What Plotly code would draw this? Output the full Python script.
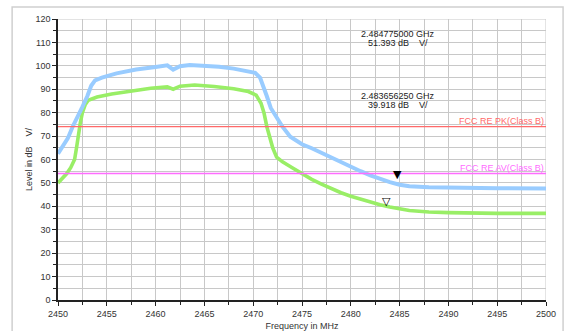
import plotly.graph_objects as go

# ---- data ----
pk_freq = [2450, 2450.5, 2451, 2451.5, 2452, 2452.5, 2453, 2453.4, 2453.8, 2454.5,
           2456, 2458, 2460, 2461.2, 2461.8, 2462.5, 2463.5, 2465, 2466.5, 2468,
           2469.5, 2470.2, 2470.7, 2471, 2471.4, 2471.8, 2472.4, 2473, 2473.8, 2475,
           2476, 2477, 2478, 2479, 2480, 2481, 2482, 2483, 2484, 2485,
           2486, 2488, 2490, 2495, 2500]
pk_level = [62.5, 65.5, 69, 74, 78, 82.5, 87, 91.5, 93.8, 95,
            96.8, 98.4, 99.5, 100.2, 98.4, 99.8, 100.4, 100.1, 99.6, 98.8,
            97.8, 97, 95, 92, 87, 82, 77.7, 74, 69.7, 66.5,
            64.8, 62.8, 60.8, 58.6, 57, 55, 53.2, 51.6, 50.3, 49.2,
            48.6, 48.1, 47.9, 47.7, 47.6]

av_freq = [2450, 2450.5, 2450.9, 2451.3, 2451.7, 2451.9, 2452.1, 2452.3, 2452.5, 2452.8,
           2453.1, 2454, 2455.5, 2457.5, 2459.5, 2461.2, 2461.8, 2462.5, 2464, 2466,
           2468, 2469.5, 2470.3, 2470.8, 2471.1, 2471.4, 2471.7, 2472, 2472.4, 2473,
           2474, 2475, 2476, 2477, 2478, 2479, 2480, 2481, 2482, 2483,
           2484, 2485, 2486, 2488, 2490, 2495, 2500]
av_level = [50, 52, 54, 56.5, 60, 65, 71, 76, 80, 83.5,
            85.3, 86.7, 88, 89.3, 90.4, 91, 90, 91.3, 91.8, 91.2,
            90.2, 89, 87.5, 84, 80, 74, 69, 65, 61, 59,
            56.5, 54, 51.5, 49.5, 47.5, 45.8, 44.3, 43, 41.8, 40.7,
            39.7, 38.8, 38.2, 37.6, 37.3, 37, 37]

limit_pk = 74.0
limit_av = 54.0
limit_pk_label = "FCC RE PK(Class B)"
limit_av_label = "FCC RE AV(Class B)"

marker1_freq_mhz = 2484.775
marker1_level = 51.393
marker1_text = ["2.484775000 GHz", "51.393 dB    V/"]
marker2_freq_mhz = 2483.65625
marker2_level = 39.918
marker2_text = ["2.483656250 GHz", "39.918 dB    V/"]

x_range = [2450, 2500]
y_range = [0, 120]

# ---- styling ----
BLUE = "#99ccff"
GREEN = "#99ee66"
RED = "#ff6a6a"
MAGENTA = "#ff6cff"
FONT = "Liberation Sans, Arial, sans-serif"
TXT = "#333333"

fig = go.Figure()
fig.add_trace(go.Scatter(x=av_freq, y=av_level, mode="lines",
                         line=dict(color=GREEN, width=3.6), hoverinfo="skip"))
fig.add_trace(go.Scatter(x=pk_freq, y=pk_level, mode="lines",
                         line=dict(color=BLUE, width=4), hoverinfo="skip"))
fig.add_trace(go.Scatter(x=x_range, y=[limit_pk, limit_pk], mode="lines",
                         line=dict(color=RED, width=1.3), hoverinfo="skip"))
fig.add_trace(go.Scatter(x=x_range, y=[limit_av, limit_av], mode="lines",
                         line=dict(color=MAGENTA, width=1.6), hoverinfo="skip"))

ann = []
ann.append(dict(x=x_range[1], y=limit_pk, text=limit_pk_label, xanchor="right",
                yanchor="bottom", showarrow=False, yshift=-1,
                font=dict(size=9, color=RED, family=FONT)))
ann.append(dict(x=x_range[1], y=limit_av, text=limit_av_label, xanchor="right",
                yanchor="bottom", showarrow=False, yshift=-1,
                font=dict(size=9, color=MAGENTA, family=FONT)))
# markers (triangle tip on the data point)
ann.append(dict(x=marker1_freq_mhz, y=marker1_level, text="▼", xanchor="center",
                yanchor="bottom", showarrow=False, yshift=-3,
                font=dict(size=11, color="#000000", family="DejaVu Sans")))
ann.append(dict(x=marker2_freq_mhz, y=marker2_level, text="▽", xanchor="center",
                yanchor="bottom", showarrow=False, yshift=-3,
                font=dict(size=11, color="#000000", family="DejaVu Sans")))
# marker readouts
for txt, yv in ((marker1_text[0], 113.7), (marker1_text[1], 109.8),
                (marker2_text[0], 87.2), (marker2_text[1], 83.3)):
    ann.append(dict(x=2484.8, y=yv, text=txt, xanchor="center",
                    yanchor="middle", showarrow=False,
                    font=dict(size=9, color="#222222", family=FONT)))

fig.update_layout(
    width=566, height=331,
    margin=dict(l=58, r=20, t=19, b=31, autoexpand=False),
    paper_bgcolor="white", plot_bgcolor="white",
    showlegend=False,
    font=dict(family=FONT, size=9, color=TXT),
    annotations=ann,
)

fig.update_xaxes(range=x_range, dtick=5, tick0=2450, automargin=False,
                 showgrid=True, gridcolor="#c8c8c8", gridwidth=1,
                 minor=dict(dtick=2.5, showgrid=True, gridcolor="#c8c8c8",
                            ticks="outside", ticklen=3, tickcolor="#222222"),
                 ticks="outside", ticklen=4, tickcolor="#222222",
                 showline=True, linecolor="#222222", linewidth=1.5,
                 mirror=False, zeroline=False,
                 tickfont=dict(size=9, family=FONT, color=TXT),
                 title=dict(text="Frequency in MHz", standoff=6,
                            font=dict(size=9, family=FONT, color=TXT)))
fig.update_yaxes(range=y_range, dtick=10, tick0=0, automargin=False,
                 showgrid=True, gridcolor="#c8c8c8", gridwidth=1,
                 minor=dict(dtick=5, showgrid=True, gridcolor="#c8c8c8",
                            ticks="outside", ticklen=3, tickcolor="#222222"),
                 ticks="outside", ticklen=4, tickcolor="#222222",
                 showline=True, linecolor="#222222", linewidth=1.5,
                 zeroline=False,
                 tickfont=dict(size=9, family=FONT, color=TXT),
                 title=dict(text="Level in dB    V/", standoff=1,
                            font=dict(size=9, family=FONT, color=TXT)))

# right and top frame lines of the grid
fig.add_shape(type="line", xref="x", yref="y", x0=x_range[1], x1=x_range[1],
              y0=y_range[0], y1=y_range[1], line=dict(color="#c8c8c8", width=1), layer="below")
fig.add_shape(type="line", xref="x", yref="y", x0=x_range[0], x1=x_range[1],
              y0=y_range[1], y1=y_range[1], line=dict(color="#c8c8c8", width=1), layer="below")
# outer light-gray frame around the whole chart
fig.add_shape(type="rect", xref="paper", yref="paper",
              x0=-0.094, x1=1.035, y0=-0.2, y1=1.043,
              line=dict(color="#d0d0d0", width=1.5), fillcolor="rgba(0,0,0,0)", layer="above")

fig.write_html("out.html", config={"displayModeBar": False},
               post_script="document.body.style.margin='0';document.body.style.overflow='hidden';")
